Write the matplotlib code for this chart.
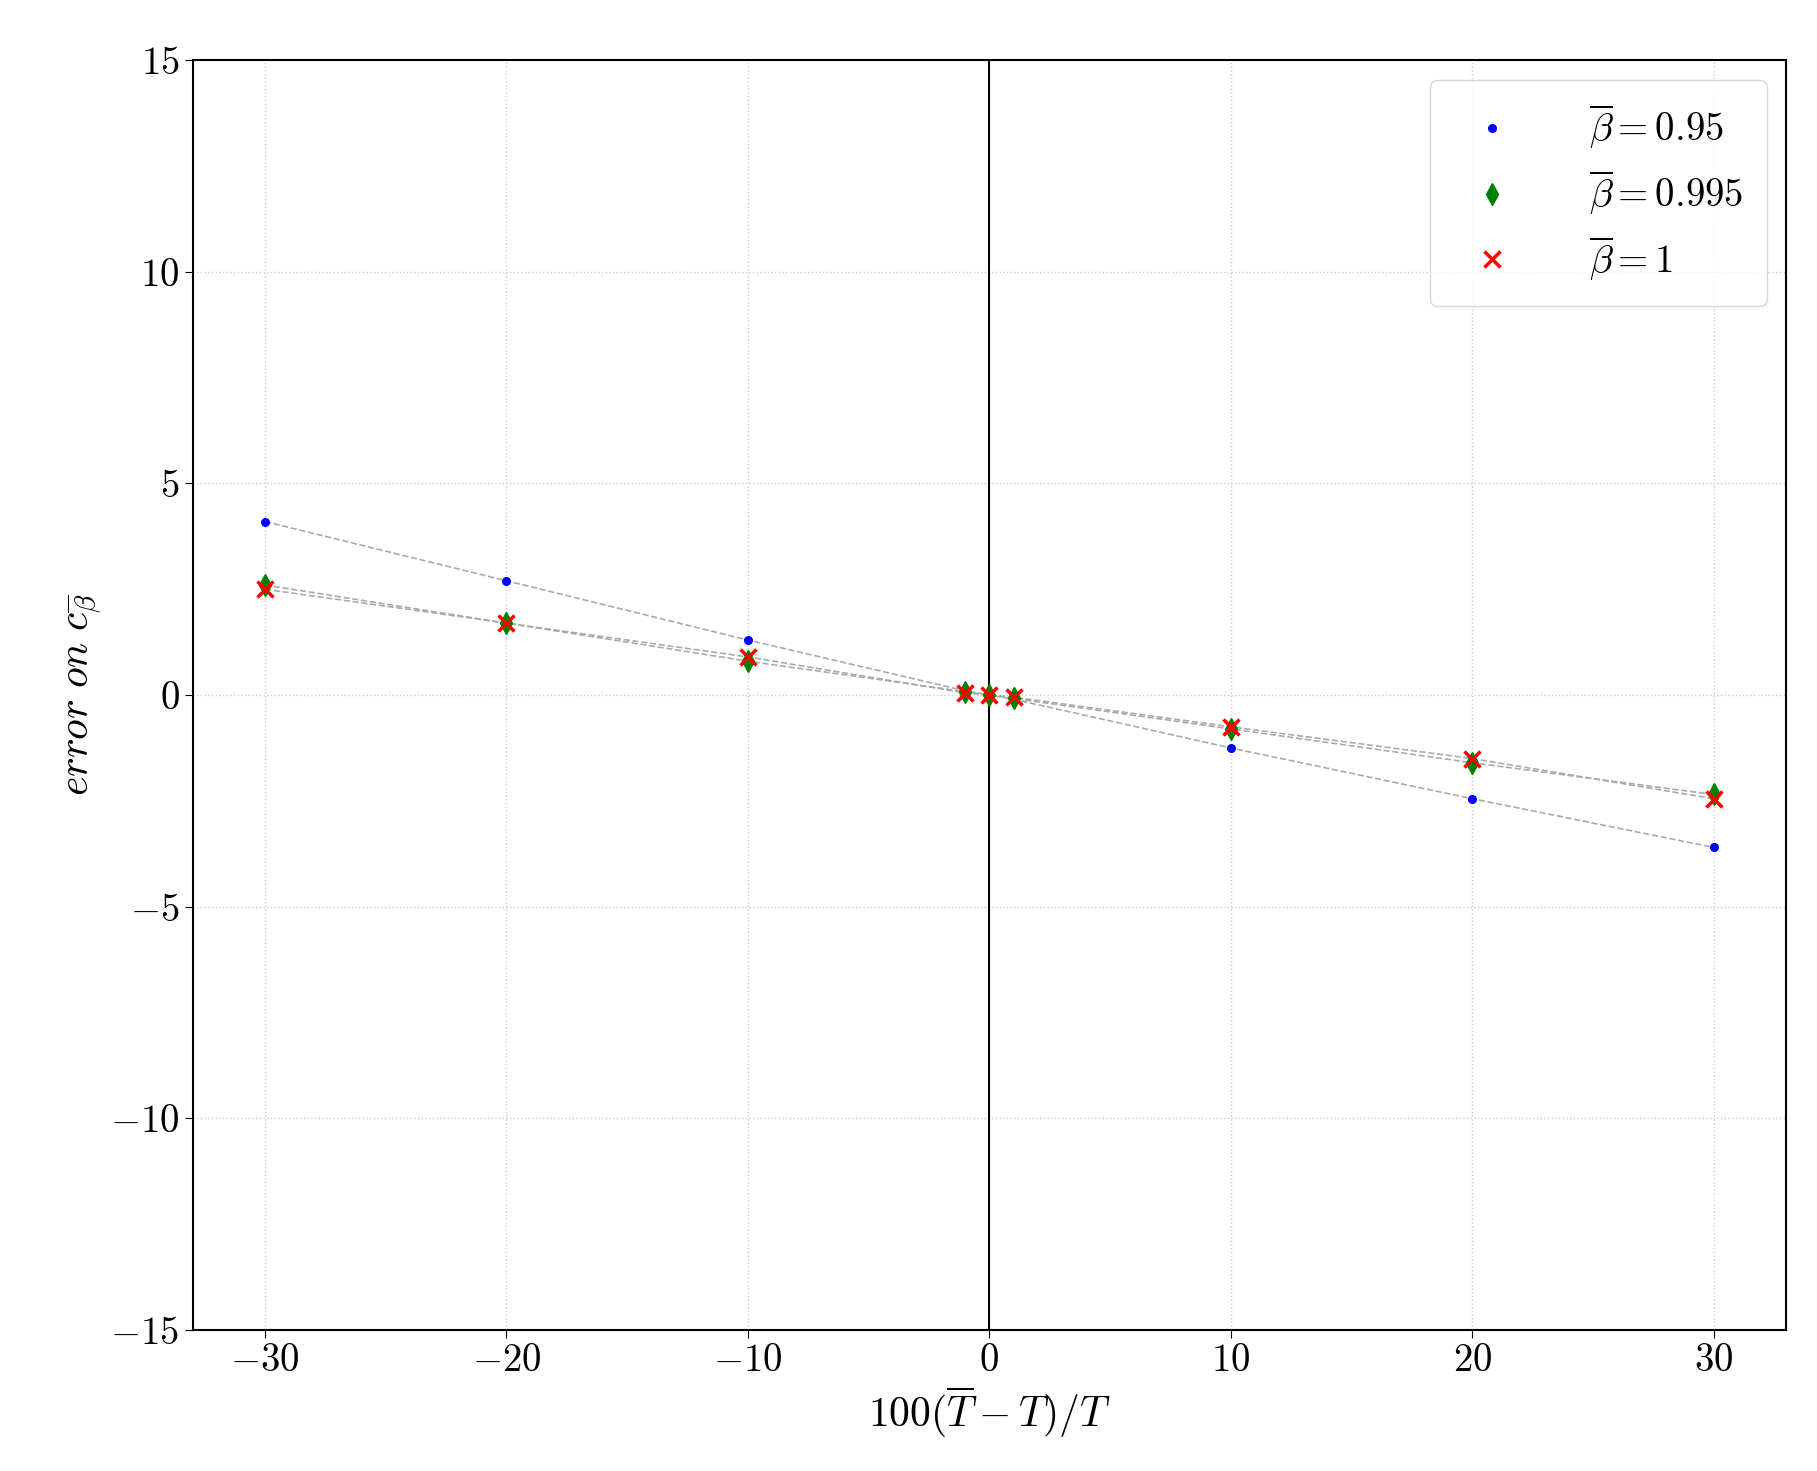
import matplotlib
matplotlib.use("Agg")
import matplotlib.pyplot as plt

plt.rcParams['mathtext.fontset'] = 'cm'
plt.rcParams['font.family'] = ['cmr10', 'DejaVu Serif']
plt.rcParams['axes.formatter.use_mathtext'] = True

x = [-30, -20, -10, -1, 0, 1, 10, 20, 30]
blue = [4.1, 2.7, 1.3, 0.1, 0.0, -0.1, -1.25, -2.45, -3.6]
green = [2.6, 1.7, 0.8, 0.08, 0.0, -0.08, -0.8, -1.6, -2.35]
red = [2.5, 1.7, 0.9, 0.05, 0.0, -0.05, -0.75, -1.5, -2.45]

fig = plt.figure(figsize=(18.17, 14.71), dpi=100)
ax = fig.add_axes([0.106, 0.096, 0.877, 0.863])
ax.grid(True, linestyle=':', color='#cccccc', linewidth=1)
ax.axvline(0, color='black', linewidth=1.5)
for ys in (blue, green, red):
    ax.plot(x, ys, '--', color='#aaaaaa', linewidth=1.2, zorder=2)
ax.plot(x, blue, '.', color='blue', markersize=11, linestyle='none', label=r'$\overline{\beta}=0.95$', zorder=3)
ax.plot(x, green, 'd', color='green', markersize=11, linestyle='none', label=r'$\overline{\beta}=0.995$', zorder=3)
ax.plot(x, red, 'x', color='red', markersize=11, markeredgewidth=2.5, linestyle='none', label=r'$\overline{\beta}=1$', zorder=4)
ax.set_xlim(-33, 33)
ax.set_ylim(-15, 15)
ax.set_xticks([-30, -20, -10, 0, 10, 20, 30])
ax.set_yticks([-15, -10, -5, 0, 5, 10, 15])
ax.tick_params(labelsize=28, length=6)
ax.set_xlabel(r'$100(\overline{T}-T)/T$', fontsize=30)
ax.set_ylabel(r'$error\ on\ c_{\overline{\beta}}$', fontsize=30)
for s in ax.spines.values():
    s.set_linewidth(1.5)
ax.legend(loc='upper right', fontsize=28, handletextpad=1.5, borderpad=0.6, labelspacing=0.45)
fig.savefig('out.png', dpi=100)
